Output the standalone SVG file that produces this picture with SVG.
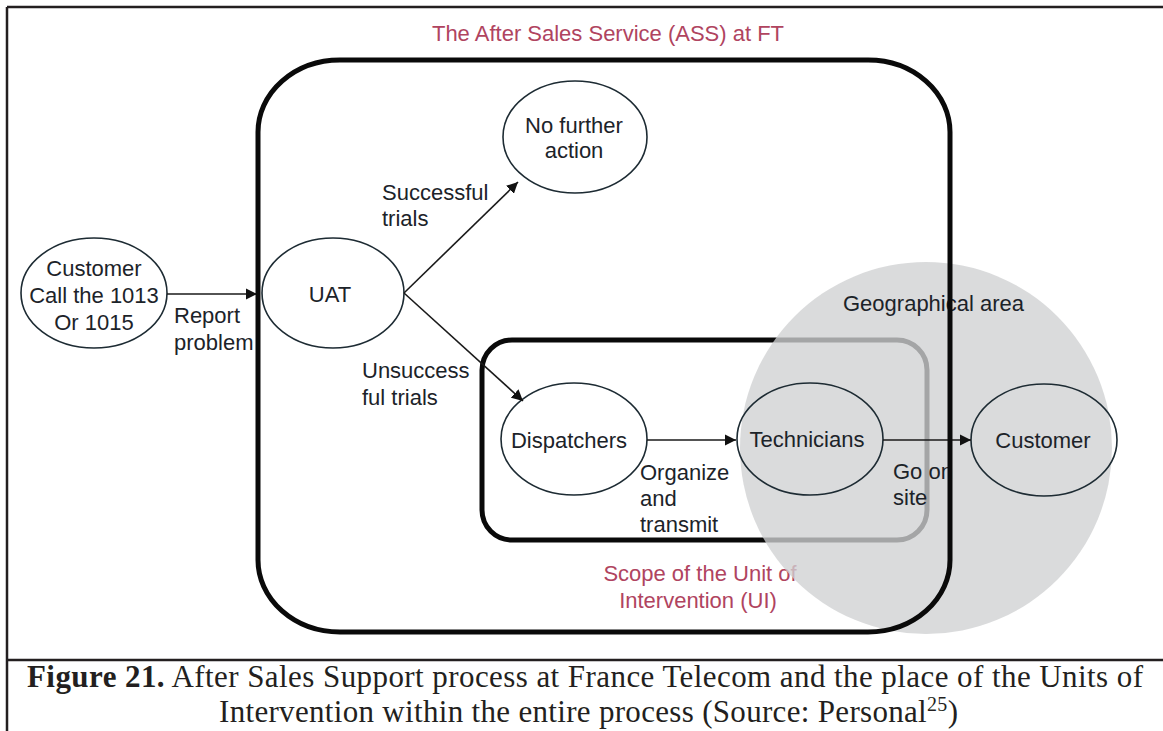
<svg xmlns="http://www.w3.org/2000/svg" width="1163" height="731" viewBox="0 0 1163 731">
<defs>
<style>
.lbl{font-family:"Liberation Sans",Arial,sans-serif;font-size:22px;fill:#1c2329}
.red{font-family:"Liberation Sans",Arial,sans-serif;font-size:22px;fill:#b0445f}
.node{fill:none;stroke:#1d2b33;stroke-width:1.6}
.conn{stroke:#1a1a1a;stroke-width:1.6;fill:none}
.cap{font-family:"Liberation Serif","Times New Roman",serif;font-size:31px;fill:#231f20}
</style>
<marker id="arr" viewBox="0 0 10 10" refX="10" refY="5" markerWidth="7" markerHeight="7" markerUnits="strokeWidth" orient="auto">
<path d="M0,0 L10,5 L0,10 z" fill="#111"/>
</marker>
</defs>
<rect width="1163" height="731" fill="#ffffff"/>
<g id="frame" stroke="#231f20" stroke-width="2.5" fill="none">
<line x1="7" y1="7" x2="1163" y2="7"/>
<line x1="7" y1="7" x2="7" y2="731"/>
<line x1="7" y1="660" x2="1163" y2="660"/>
</g>
<text class="red" x="608" y="41" text-anchor="middle">The After Sales Service (ASS) at FT</text>
<g id="ui-scope">
<rect x="482" y="340" width="445" height="200" rx="30" ry="30" fill="none" stroke="#0a0a0a" stroke-width="5"/>
<text class="red" x="700" y="581" text-anchor="middle">Scope of the Unit of</text>
<text class="red" x="698" y="608" text-anchor="middle">Intervention (UI)</text>
</g>
<g id="geographical-area">
<circle cx="926" cy="448" r="186" fill="#cfd1d2" fill-opacity="0.78"/>
<text class="lbl" x="843" y="311">Geographical area</text>
</g>
<g id="customer-call">
<ellipse class="node" cx="94" cy="293" rx="73" ry="55"/>
<text class="lbl" x="94" y="276" text-anchor="middle">Customer</text>
<text class="lbl" x="94" y="303" text-anchor="middle">Call the 1013</text>
<text class="lbl" x="94" y="330" text-anchor="middle">Or 1015</text>
</g>
<g id="uat">
<ellipse class="node" cx="333" cy="293" rx="71" ry="55"/>
<text class="lbl" x="330" y="302" text-anchor="middle">UAT</text>
</g>
<g id="no-further-action">
<ellipse class="node" cx="575" cy="137" rx="72" ry="56"/>
<text class="lbl" x="574" y="133" text-anchor="middle">No further</text>
<text class="lbl" x="574" y="158" text-anchor="middle">action</text>
</g>
<g id="dispatchers">
<ellipse class="node" cx="574" cy="439" rx="73" ry="56"/>
<text class="lbl" x="569" y="448" text-anchor="middle">Dispatchers</text>
</g>
<g id="technicians">
<ellipse class="node" cx="810" cy="439" rx="73" ry="56"/>
<text class="lbl" x="807" y="447" text-anchor="middle">Technicians</text>
</g>
<g id="customer">
<ellipse class="node" cx="1044" cy="440" rx="73" ry="56"/>
<text class="lbl" x="1043" y="448" text-anchor="middle">Customer</text>
</g>
<g id="connectors">
<line class="conn" x1="167" y1="294" x2="257" y2="294" marker-end="url(#arr)"/>
<line class="conn" x1="404" y1="293" x2="518" y2="182" marker-end="url(#arr)"/>
<line class="conn" x1="404" y1="293" x2="523" y2="401" marker-end="url(#arr)"/>
<line class="conn" x1="647" y1="440" x2="736" y2="440" marker-end="url(#arr)"/>
<line class="conn" x1="883" y1="440" x2="971" y2="440" marker-end="url(#arr)"/>
</g>
<g id="connector-labels">
<text class="lbl" x="174" y="323">Report</text>
<text class="lbl" x="174" y="350">problem</text>
<text class="lbl" x="382" y="200">Successful</text>
<text class="lbl" x="382" y="226">trials</text>
<text class="lbl" x="362" y="378">Unsuccess</text>
<text class="lbl" x="362" y="405">ful trials</text>
<text class="lbl" x="640" y="480">Organize</text>
<text class="lbl" x="640" y="506">and</text>
<text class="lbl" x="640" y="532">transmit</text>
<text class="lbl" x="893" y="479">Go on</text>
<text class="lbl" x="893" y="505">site</text>
</g>
<g id="ass-scope">
<rect x="258" y="60" width="692" height="572" rx="82" ry="72" fill="none" stroke="#0a0a0a" stroke-width="5"/>
</g>
<g id="caption">
<text class="cap" x="27" y="687" textLength="1116" lengthAdjust="spacing"><tspan font-weight="bold">Figure 21.</tspan> After Sales Support process at France Telecom and the place of the Units of</text>
<text class="cap" x="219" y="722" textLength="739" lengthAdjust="spacing">Intervention within the entire process (Source: Personal<tspan font-size="20" dy="-11">25</tspan><tspan dy="11">)</tspan></text>
</g>
</svg>
